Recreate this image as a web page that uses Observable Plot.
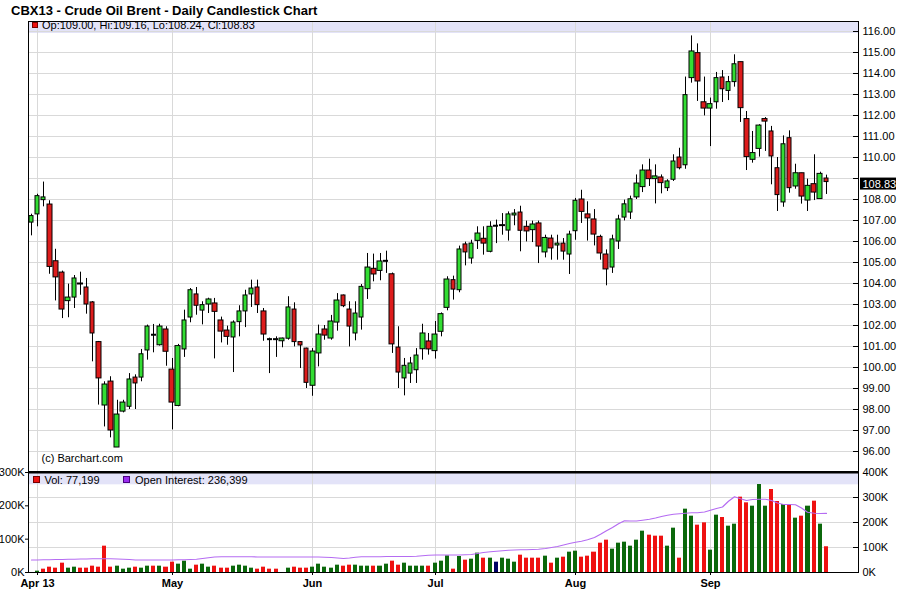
<!DOCTYPE html>
<html>
<head>
<meta charset="utf-8">
<script src="https://cdn.jsdelivr.net/npm/d3@7"></script>
<script src="https://cdn.jsdelivr.net/npm/@observablehq/plot@0.6"></script>
<style>
html,body{margin:0;padding:0;background:#fff;}
#wrap{position:relative;width:900px;height:591px;overflow:hidden;font-family:"Liberation Sans",Arial,Helvetica,sans-serif;color:#000;}
#wrap svg{position:absolute;left:0;}
.t{position:absolute;white-space:nowrap;line-height:1;}
.sq{position:absolute;box-sizing:border-box;}
</style>
</head>
<body>
<div id="wrap"></div>
<script>
// ---------- DATA ----------
const monthIdx = [1, 23, 46, 66, 89, 111];
const monthLabels = ["Apr 13", "May", "Jun", "Jul", "Aug", "Sep"];
const priceTicks = [96,97,98,99,100,101,102,103,104,105,106,107,108,109,110,111,112,113,114,115,116];
const volTicksK = [0, 100, 200, 300];
const oiTicksK = [0, 100, 200, 300, 400];

const opens = [
106.90,107.29,107.97,107.76,105.06,104.52,103.16,103.33,104.00,103.81,
103.10,101.21,98.19,99.33,96.19,97.90,98.13,99.52,99.52,100.81,
101.56,101.06,101.81,99.90,98.17,100.86,102.38,103.48,102.71,103.00,
103.05,102.24,101.76,101.43,102.16,102.67,103.48,103.81,102.67,101.35,
101.35,101.25,101.37,102.76,101.21,100.90,99.13,100.67,101.81,101.38,
102.14,103.43,102.76,101.62,102.38,103.73,104.70,104.60,105.08,104.44,
100.95,99.48,99.71,99.87,100.87,101.24,100.78,101.70,102.84,104.16,
103.68,105.86,105.19,106.03,106.13,105.51,106.75,106.78,106.52,107.24,
107.38,106.70,106.54,106.86,105.48,106.14,105.81,105.90,105.38,106.49,
108.00,107.29,107.05,106.22,105.38,104.76,106.00,107.14,107.38,108.10,
108.59,109.38,108.97,109.05,108.54,108.94,110.00,109.63,113.78,114.97,
112.63,112.33,112.63,113.81,113.17,113.59,114.54,111.83,109.89,110.41,
111.83,111.24,109.49,107.86,110.92,108.62,109.25,107.95,108.73,108.02,
109.00];
const highs = [
107.30,108.25,108.83,107.94,105.63,104.59,103.97,104.38,104.54,104.24,
103.14,101.24,99.32,99.56,98.44,98.44,99.71,99.65,100.86,102.02,
102.05,102.06,101.94,100.43,101.10,102.73,103.76,103.81,103.13,103.30,
103.29,102.40,101.97,102.22,102.94,103.68,104.16,104.16,102.81,101.40,
101.46,101.40,103.37,103.08,101.22,100.92,100.90,102.02,102.00,102.48,
103.52,103.45,103.13,103.13,103.95,105.43,105.40,105.43,105.54,104.50,
101.94,100.43,100.48,100.90,102.06,101.62,102.19,102.60,104.32,104.35,
105.78,105.97,106.06,106.70,106.70,106.94,107.02,107.33,107.41,107.52,
107.68,106.97,106.97,106.97,106.30,106.30,106.30,106.14,106.49,108.05,
108.44,107.89,107.52,106.30,105.60,106.30,107.25,107.97,108.16,109.17,
109.65,109.92,109.65,109.17,108.94,110.13,110.44,113.83,115.79,115.41,
113.83,112.83,114.05,114.14,113.86,114.89,114.54,112.19,111.24,111.56,
111.90,111.48,110.00,111.03,111.27,109.68,109.25,108.97,110.13,109.30,
109.16];
const lows = [
106.27,106.70,107.65,104.44,103.17,102.33,102.37,102.81,103.44,102.54,
100.27,98.21,97.17,96.65,96.19,97.84,98.00,98.00,99.32,100.35,
100.70,101.02,100.06,97.03,98.13,100.48,102.13,102.49,102.03,102.57,
100.41,101.17,101.06,99.76,101.46,101.90,102.86,102.57,101.25,99.71,
100.48,100.94,101.30,100.98,99.95,99.00,98.63,100.03,101.30,101.30,
101.73,102.85,100.98,101.27,101.78,103.24,104.08,104.13,104.48,100.67,
99.00,98.65,99.24,99.24,100.35,100.59,100.40,101.46,102.70,103.21,
103.56,104.84,104.92,105.62,105.35,105.46,105.90,106.30,106.02,106.75,
105.51,105.98,105.95,104.95,105.22,105.11,105.11,105.11,104.43,106.06,
106.86,106.02,105.79,105.11,103.89,104.48,105.62,106.98,107.05,108.00,
108.33,108.62,107.79,108.27,108.38,108.86,109.41,109.44,113.54,112.67,
111.98,110.52,112.30,112.62,112.71,113.35,111.67,109.38,109.73,110.02,
110.29,108.70,107.43,107.63,108.30,108.49,107.78,107.43,107.95,108.00,
108.24];
const closes = [
107.21,108.16,108.10,104.79,104.29,102.76,103.33,104.24,104.00,103.00,
101.62,99.48,99.19,97.00,97.76,98.33,99.43,99.24,100.63,101.95,
101.56,101.95,100.75,98.33,101.02,102.24,103.68,102.94,102.97,103.24,
102.65,101.71,101.46,102.14,102.67,103.43,103.76,102.97,101.57,101.35,
101.35,101.38,102.86,101.21,101.05,99.27,100.76,101.57,101.52,102.19,
103.19,102.92,101.95,102.57,103.84,104.76,104.43,105.05,105.08,101.10,
99.76,100.08,100.19,100.57,101.62,100.86,101.57,102.54,104.19,103.71,
105.62,105.48,105.90,106.38,105.90,106.70,106.75,106.78,107.29,107.33,
106.51,106.48,106.81,105.76,106.17,105.67,105.90,105.52,106.33,107.94,
107.41,107.10,106.33,105.43,104.67,106.10,107.05,107.77,108.01,108.76,
109.38,108.97,109.10,108.78,108.86,109.81,109.49,112.97,115.05,113.62,
112.33,112.54,113.78,113.25,113.59,114.44,112.35,110.02,110.21,111.52,
111.71,110.05,108.21,110.63,108.54,109.25,108.14,108.65,108.33,109.22,
108.83];
// volume in thousands, direction vs previous close (g up, r down, n unchanged)
const volumesK = [
0,4,10,16,13,28,13,16,13,13,
19,16,79,16,19,10,13,16,13,19,
19,19,16,31,25,34,10,22,25,16,
19,13,13,19,22,19,13,10,16,10,
10,0,13,16,13,13,16,25,16,13,
22,19,22,22,19,19,19,19,25,34,
22,28,19,19,19,19,28,34,50,10,
48,37,40,58,43,43,31,43,40,31,
52,43,43,43,49,28,43,46,61,64,
46,49,61,88,97,70,88,91,79,97,
124,112,109,109,79,133,43,190,169,142,
149,67,172,165,139,145,226,209,199,264,
199,249,213,204,204,163,169,199,214,145,
77.199];
const volDir = ("ggrrrrggrr"+"rrrrgggrgg"+"rgrrgggrgg"+"rrrggggrrr"+"rggrrrgggg"+
  "grrgggrggr"+"rggggrgggr"+"grggrgnggg"+"rrrrgrgrgg"+"rrrrrggggg"+
  "grrrggrggr"+"rggrggrrgg"+"grrgrgrgrg"+"r").split("");
// open interest in thousands
const openInterestK = [
50,50,51,51,52,52,53,53,54,54,
55,55,55,55,54,53,52,50,50,50,
50,50,50,50,51,51,52,53,56,59,
62,63,63,63,63,63,63,62,62,62,
62,62,62,62,62,62,62,62,61,60,
58,56,58,61,63,63,63,63,64,64,
64,64,64,65,67,69,70,70,70,70,
70,71,72,76,80,83,85,87,89,90,
91,91,92,93,96,100,104,110,116,121,
125,131,140,153,167,180,195,207,206,206,
209,213,218,224,229,233,235,237,239,239,
242,249,256,262,285,303,295,288,292,293,
293,288,278,272,272,271,258,241,237,236,
236.399];

// ---------- build tables ----------
const candles = opens.map((o, i) => ({i, o, h: highs[i], l: lows[i], c: closes[i]}));
const vols = volumesK.map((v, i) => ({i, v: v * 1000, d: volDir[i]})).filter(d => d.v > 0);
const oi = openInterestK.map((v, i) => ({i, v: v * 1000}));
const last = candles[candles.length - 1];

// ---------- layout constants ----------
const W = 900, ML = 28, MR = 42;
const X0 = -0.49, X1 = 135.26;
const PX = (W - ML - MR) / (X1 - X0);
const GREEN = "#33dd33", RED = "#dd1c1c", GRID = "#d9d9d9", BAND = "#e3e3f8";
const VGREEN = "#0b680b", VRED = "#ee1111", VNAVY = "#000066";
const OIK = 0.75; // right axis (0-400K) mapped onto left volume axis (0-300K)
const font = {fontFamily: '"Liberation Sans", Arial, sans-serif', fontSize: "11px", background: "transparent", overflow: "visible", color: "#000"};

const topPlot = Plot.plot({
  width: W, height: 472, marginTop: 21, marginBottom: 1, marginLeft: ML, marginRight: MR,
  x: {domain: [X0, X1], axis: null, round: true},
  y: {domain: [116 - 440 / 21, 116 + 10 / 21], axis: null},
  style: font,
  marks: [
    Plot.rect([0], {x1: X0, x2: X1, y1: 116 - 2 / 21, y2: 116 + 10 / 21, fill: BAND}),
    Plot.ruleY(priceTicks, {stroke: GRID}),
    Plot.ruleX(monthIdx, {stroke: GRID}),
    Plot.ruleX(candles, {x: "i", y1: "l", y2: "h", stroke: "#000"}),
    Plot.rect(candles.filter(d => d.o !== d.c), {
      x1: d => d.i - 0.37, x2: d => d.i + 0.37, y1: "o", y2: "c",
      fill: d => d.c > d.o ? GREEN : RED, stroke: "#000", strokeWidth: 1
    }),
    Plot.ruleY(candles.filter(d => d.o === d.c), {y: "o", x1: d => d.i - 0.45, x2: d => d.i + 0.45, stroke: "#000", strokeWidth: 2}),
    Plot.ruleY(priceTicks, {x1: X1 - 5 / PX, x2: X1, stroke: "#000"}),
    Plot.axisY(priceTicks.filter(p => Math.abs(p - last.c) > 0.5), {anchor: "right", label: null, tickSize: 0, tickPadding: 4, tickFormat: d => d.toFixed(2)}),
    Plot.rect([last], {x1: X1 + 2 / PX, x2: X1 + 38 / PX, y1: d => d.c - 8 / 21, y2: d => d.c + 4 / 21, fill: "#000"}),
    Plot.text([last], {x: X1, y: "c", dx: 4, dy: 2, text: d => d.c.toFixed(2), textAnchor: "start", fill: "#fff"}),
    Plot.text(["(c) Barchart.com"], {frameAnchor: "bottom-left", text: d => d, dx: 13, dy: -13, textAnchor: "start", lineAnchor: "middle"}),
    Plot.frame({stroke: "#000"})
  ]
});

const botPlot = Plot.plot({
  width: W, height: 120, marginTop: 1, marginBottom: 19, marginLeft: ML, marginRight: MR,
  x: {domain: [X0, X1], axis: null, round: true, label: null},
  y: {domain: [0, 300000], axis: null, label: null},
  style: font,
  marks: [
    Plot.rect([0], {x1: X0, x2: X1, y1: 263000, y2: 300000, fill: BAND}),
    Plot.ruleY(oiTicksK.slice(1, 4), {y: d => d * 1000 * OIK, stroke: GRID}),
    Plot.ruleX(monthIdx, {stroke: GRID}),
    Plot.rect(vols, {x1: d => d.i - 0.33, x2: d => d.i + 0.33, y1: 0, y2: "v",
      fill: d => d.d === "g" ? VGREEN : d.d === "r" ? VRED : VNAVY}),
    Plot.line(oi, {x: "i", y: d => d.v * OIK, stroke: "#b56cf2", strokeWidth: 1.2}),
    Plot.axisY(volTicksK.map(d => d * 1000), {anchor: "left", label: null, tickSize: 3, tickPadding: 1, tickFormat: d => d / 1000 + "K"}),
    Plot.ruleY(oiTicksK, {y: d => d * 1000 * OIK, x1: X1 - 5 / PX, x2: X1, stroke: "#000"}),
    Plot.text(oiTicksK, {x: X1, y: d => d * 1000 * OIK, dx: 4, text: d => d + "K", textAnchor: "start"}),
    Plot.axisX(monthIdx, {anchor: "bottom", label: null, tickSize: 3, tickFormat: () => ""}),
    Plot.text(monthIdx, {x: d => d, y: 0, dy: 11, text: (d, i) => monthLabels[i], fontWeight: "bold", lineAnchor: "middle"}),
    Plot.frame({stroke: "#000"}),
    Plot.ruleY([300000], {stroke: "#000", strokeWidth: 2})
  ]
});

const wrap = document.getElementById("wrap");
topPlot.style.top = "0px";
botPlot.style.top = "471px";
wrap.appendChild(topPlot);
wrap.appendChild(botPlot);

function addText(txt, left, top, size, bold) {
  const d = document.createElement("div");
  d.className = "t";
  d.textContent = txt;
  d.style.left = left + "px"; d.style.top = top + "px";
  d.style.fontSize = size + "px";
  if (bold) d.style.fontWeight = "bold";
  wrap.appendChild(d);
}
function addSq(color, border, left, top, size) {
  const d = document.createElement("div");
  d.className = "sq";
  d.style.left = left + "px"; d.style.top = top + "px";
  d.style.width = size + "px"; d.style.height = size + "px";
  d.style.background = color; d.style.border = "1px solid " + border;
  wrap.appendChild(d);
}
const fmt2 = v => v.toFixed(2);
addText("CBX13 - Crude Oil Brent - Daily Candlestick Chart", 11, 4, 13, true);
addSq("#ee1111", "#770000", 32, 22, 6);
addText(`Op:${fmt2(last.o)}, Hi:${fmt2(last.h)}, Lo:${fmt2(last.l)}, Cl:${fmt2(last.c)}`, 42, 19.5, 11, false);
addSq("#ee1111", "#770000", 33, 476, 7);
addText("Vol: " + d3.format(",")(Math.round(volumesK[volumesK.length - 1] * 1000)), 44.5, 474.5, 11, false);
addSq("#9a2cf0", "#4a0080", 123, 476, 7);
addText("Open Interest: " + d3.format(",")(Math.round(openInterestK[openInterestK.length - 1] * 1000)), 135, 474.5, 11, false);
</script>
</body>
</html>
